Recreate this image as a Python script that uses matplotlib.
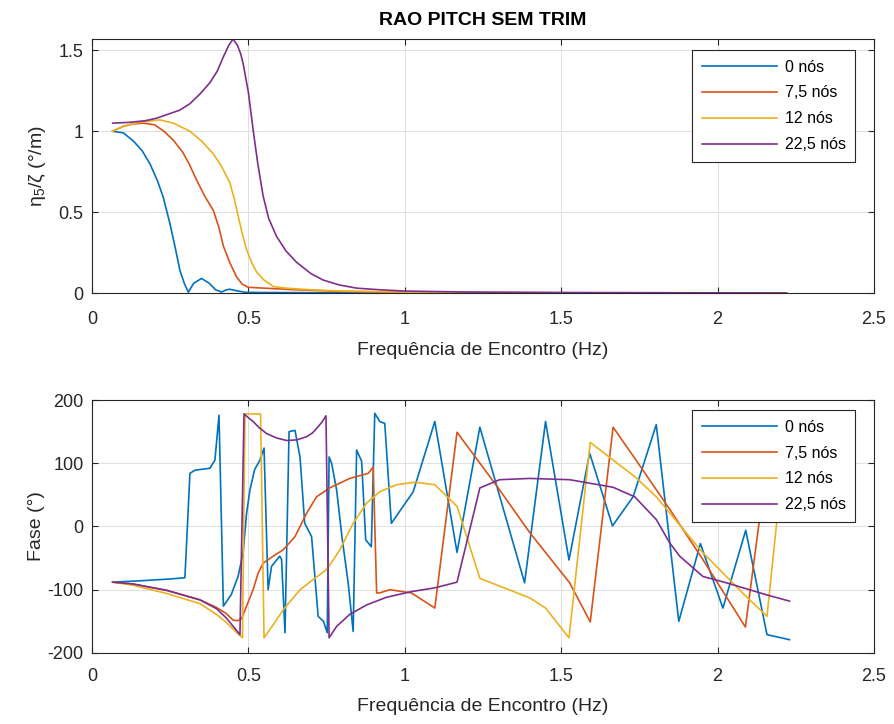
import matplotlib
matplotlib.use("Agg")
import matplotlib.pyplot as plt

plt.rcParams['font.family'] = ['Liberation Sans', 'DejaVu Sans']
plt.rcParams['mathtext.fontset'] = 'custom'
plt.rcParams['mathtext.rm'] = 'Liberation Sans'
plt.rcParams['mathtext.it'] = 'Liberation Sans:italic'
plt.rcParams['axes.unicode_minus'] = False

labels = ['0 nós', '7,5 nós', '12 nós', '22,5 nós']
colors = ['#0072BD', '#D95319', '#EDB120', '#7E2F8E']

# ---- RAO amplitude (deg/m) ----
f_amp_0 = [0.066, 0.10, 0.132, 0.16, 0.185, 0.21, 0.228, 0.249, 0.265, 0.281, 0.295, 0.308,
           0.325, 0.35, 0.375, 0.395, 0.414, 0.43, 0.441, 0.46, 0.49, 0.55, 0.7, 1.0, 1.5, 2.0, 2.22]
amp_0 = [1.00, 0.99, 0.94, 0.88, 0.80, 0.69, 0.59, 0.43, 0.29, 0.14, 0.06, 0.005,
         0.06, 0.09, 0.06, 0.02, 0.006, 0.02, 0.023, 0.015, 0.004, 0.003, 0.002, 0.001, 0, 0, 0]

f_amp_75 = [0.066, 0.10, 0.13, 0.164, 0.20, 0.23, 0.26, 0.29, 0.31, 0.334, 0.36, 0.388, 0.405,
            0.42, 0.44, 0.462, 0.48, 0.50, 0.55, 0.65, 0.8, 1.0, 1.3, 1.6, 2.0, 2.22]
amp_75 = [1.00, 1.03, 1.045, 1.05, 1.04, 1.00, 0.945, 0.87, 0.80, 0.70, 0.60, 0.51, 0.41,
          0.29, 0.19, 0.10, 0.055, 0.035, 0.03, 0.02, 0.01, 0.005, 0.002, 0.001, 0, 0]

f_amp_12 = [0.066, 0.10, 0.15, 0.217, 0.26, 0.313, 0.35, 0.388, 0.415, 0.441, 0.455, 0.468, 0.48,
            0.494, 0.51, 0.526, 0.55, 0.58, 0.62, 0.7, 0.8, 1.0, 1.3, 2.0, 2.22]
amp_12 = [1.00, 1.03, 1.055, 1.07, 1.05, 1.00, 0.94, 0.86, 0.78, 0.68, 0.58, 0.47, 0.37,
          0.27, 0.19, 0.13, 0.08, 0.04, 0.03, 0.02, 0.012, 0.005, 0.002, 0, 0]

f_amp_225 = [0.066, 0.12, 0.17, 0.206, 0.25, 0.28, 0.313, 0.345, 0.377, 0.40, 0.42, 0.437, 0.451,
             0.465, 0.475, 0.483, 0.50, 0.515, 0.53, 0.547, 0.565, 0.59, 0.62, 0.654, 0.70, 0.739,
             0.79, 0.846, 0.92, 1.0, 1.2, 1.5, 2.0, 2.22]
amp_225 = [1.05, 1.055, 1.065, 1.08, 1.11, 1.13, 1.17, 1.23, 1.30, 1.37, 1.46, 1.53, 1.57,
           1.53, 1.48, 1.42, 1.24, 1.01, 0.80, 0.60, 0.46, 0.35, 0.26, 0.19, 0.12, 0.08,
           0.05, 0.03, 0.02, 0.012, 0.006, 0.003, 0.001, 0]

# ---- Phase (deg) ----
f_ph_0 = [0.066, 0.15, 0.25, 0.297, 0.305, 0.313, 0.329, 0.36, 0.377, 0.393, 0.406, 0.42, 0.445,
          0.467, 0.483, 0.494, 0.505, 0.52, 0.537, 0.55, 0.563, 0.574, 0.60, 0.606, 0.617, 0.63,
          0.649, 0.665, 0.68, 0.702, 0.723, 0.74, 0.752, 0.758, 0.766, 0.782, 0.80, 0.819, 0.835,
          0.846, 0.862, 0.875, 0.893, 0.904, 0.92, 0.936, 0.957, 1.027, 1.096, 1.167, 1.24, 1.383,
          1.45, 1.525, 1.591, 1.664, 1.73, 1.804, 1.876, 1.945, 2.017, 2.09, 2.158, 2.23]
ph_0 = [-88, -86, -83, -81, 0, 84, 89, 91, 92, 105, 176, -126, -108,
        -79, -42, 20, 58, 90, 105, 124, -100, -63, -47, -52, -168, 150,
        152, 110, 5, -16, -142, -150, -168, 110, 100, 58, -20, -89, -166,
        121, 103, -21, -32, 179, 166, 163, 5, 55, 166, -41, 157, -89,
        166, -53, 116, 1, 47, 161, -150, -27, -129, -6, -171, -179]

f_ph_75 = [0.066, 0.132, 0.239, 0.345, 0.398, 0.43, 0.451, 0.465, 0.478, 0.494, 0.515, 0.531,
           0.547, 0.579, 0.611, 0.649, 0.686, 0.718, 0.76, 0.824, 0.883, 0.899, 0.91, 0.92, 0.952,
           1.021, 1.096, 1.167, 1.30, 1.40, 1.527, 1.593, 1.666, 1.735, 1.85, 1.95, 2.089, 2.134, 2.17]
ph_75 = [-88, -91, -101, -116, -128, -138, -148, -149, -146, -126, -100, -74,
         -58, -47, -37, -16, 21, 47, 61, 76, 84, 94, -105, -105, -100,
         -105, -129, 149, 60, -10, -89, -151, 157, 108, 25, -50, -159, 11, 120]

f_ph_12 = [0.066, 0.132, 0.239, 0.345, 0.398, 0.43, 0.451, 0.467, 0.481, 0.489, 0.539, 0.55,
           0.58, 0.611, 0.665, 0.707, 0.75, 0.771, 0.792, 0.835, 0.878, 0.92, 0.973, 1.032, 1.096,
           1.167, 1.24, 1.40, 1.45, 1.525, 1.593, 1.666, 1.735, 1.804, 1.95, 2.09, 2.158, 2.225]
ph_12 = [-88, -93, -106, -122, -139, -152, -162, -170, -176, 178, 178, -176,
         -155, -132, -100, -84, -68, -53, -37, 5, 37, 55, 66, 70, 66,
         32, -82, -113, -129, -176, 133, 105, 79, 47, -40, -110, -142, 179]

f_ph_225 = [0.066, 0.132, 0.239, 0.345, 0.398, 0.43, 0.455, 0.473, 0.486, 0.50, 0.515, 0.535,
            0.558, 0.59, 0.622, 0.655, 0.686, 0.705, 0.718, 0.735, 0.748, 0.758, 0.782, 0.824,
            0.878, 0.941, 1.021, 1.096, 1.167, 1.24, 1.303, 1.40, 1.527, 1.666, 1.735, 1.804,
            1.847, 1.879, 1.953, 2.028, 2.156, 2.23]
ph_225 = [-88, -91, -101, -116, -130, -145, -160, -171, 178, 172, 166, 156,
          147, 140, 136, 137, 142, 148, 155, 165, 175, -176, -158, -139,
          -124, -112, -103, -97, -88, 61, 74, 76, 74, 62, 47, 11,
          -26, -47, -79, -89, -108, -118]

amp_series = [(f_amp_0, amp_0), (f_amp_75, amp_75), (f_amp_12, amp_12), (f_amp_225, amp_225)]
ph_series = [(f_ph_0, ph_0), (f_ph_75, ph_75), (f_ph_12, ph_12), (f_ph_225, ph_225)]

fig = plt.figure(figsize=(8.95, 7.24), dpi=100)
ax1 = fig.add_axes([0.1028, 0.5953, 0.8737, 0.3508])
ax2 = fig.add_axes([0.1028, 0.0981, 0.8737, 0.3494])

axis_col = '#262626'
tick_fs = 13
label_fs = 14


def style(ax):
    for s in ax.spines.values():
        s.set_color(axis_col)
        s.set_linewidth(0.8)
    ax.tick_params(direction='in', top=True, right=True, length=4, width=0.8,
                   colors=axis_col, labelsize=tick_fs, labelcolor=axis_col)
    ax.tick_params(axis='x', pad=13)
    ax.tick_params(axis='y', pad=6)
    ax.grid(True, color='#dedede', linewidth=0.7)
    ax.set_axisbelow(True)
    ax.set_xlim(0, 2.5)
    ax.set_xticks([0, 0.5, 1, 1.5, 2, 2.5])
    ax.set_xticklabels(['0', '0.5', '1', '1.5', '2', '2.5'])
    ax.set_xlabel('Frequência de Encontro (Hz)', fontsize=label_fs, color=axis_col, labelpad=10)


for (f, a), c, lab in zip(amp_series, colors, labels):
    ax1.plot(f, a, color=c, lw=1.2, label=lab)
style(ax1)
ax1.set_ylim(0, 1.57)
ax1.set_yticks([0, 0.5, 1, 1.5])
ax1.set_yticklabels(['0', '0.5', '1', '1.5'])
ax1.set_ylabel('η$_5$/ζ (°/m)', fontsize=label_fs, color=axis_col, labelpad=8)
ax1.set_title('RAO PITCH SEM TRIM', fontsize=14, fontweight='bold', color='black', pad=10)

for (f, p), c, lab in zip(ph_series, colors, labels):
    ax2.plot(f, p, color=c, lw=1.2, label=lab)
style(ax2)
ax2.set_ylim(-200, 200)
ax2.set_yticks([-200, -100, 0, 100, 200])
ax2.set_ylabel('Fase (°)', fontsize=label_fs, color=axis_col, labelpad=2)
ax2.tick_params(axis='x', pad=11)
ax2.xaxis.labelpad = 9

for ax, top in ((ax1, 0.957), (ax2, 0.96)):
    leg = ax.legend(loc='upper right', bbox_to_anchor=(0.976, top), borderaxespad=0,
                    fontsize=11.5, fancybox=False, framealpha=1, edgecolor='#262626',
                    handlelength=4.7, handletextpad=0.5, labelspacing=0.68,
                    borderpad=0.6)
    leg.get_frame().set_linewidth(0.8)

fig.savefig('out.png', dpi=100)
